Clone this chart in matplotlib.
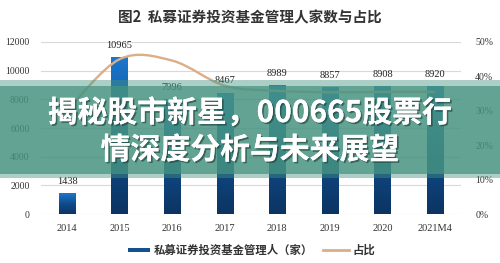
import matplotlib
matplotlib.use("Agg")
import matplotlib.pyplot as plt
import numpy as np
from matplotlib.path import Path
from matplotlib.patches import PathPatch, Rectangle
from matplotlib.colors import LinearSegmentedColormap
import matplotlib.patheffects as pe

plt.rcParams['font.family'] = ['Noto Sans CJK SC', 'DejaVu Sans']

years = ["2014", "2015", "2016", "2017", "2018", "2019", "2020", "2021M4"]
managers = [1438, 10965, 7996, 8467, 8989, 8857, 8908, 8920]
share = [30.0, 45.0, 44.6, 37.3, 35.8, 35.4, 35.5, 35.5]
left_ticks = [0, 2000, 4000, 6000, 8000, 10000, 12000]
right_ticks = [0, 10, 20, 30, 40, 50]

title = "图2  私募证券投资基金管理人家数与占比"
bar_label = "私募证券投资基金管理人（家）"
line_label = "占比"
headline = ["揭秘股市新星，000665股票行", "情深度分析与未来展望"]

W, H = 500, 263
fig = plt.figure(figsize=(W / 100, H / 100), dpi=100)
fig.patch.set_facecolor("white")

ax = fig.add_axes([40.7 / W, (H - 214) / H, 420.6 / W, 172 / H])
x = np.arange(len(years))
bw = 0.31

ax.set_xlim(-0.5, len(years) - 0.5)
ax.set_ylim(0, 12000)
ax.set_yticks(left_ticks)
ax.set_yticklabels([str(t) for t in left_ticks], fontfamily="Liberation Serif",
                   fontsize=7, color="#333333")
ax.set_xticks(x)
ax.set_xticklabels(years, fontfamily="Liberation Serif", fontsize=7.5, color="#333333")
ax.tick_params(length=0, pad=8)
ax.tick_params(axis="x", pad=7)
for s in ax.spines.values():
    s.set_visible(False)
ax.grid(axis="y", color="#d9d9d9", linewidth=0.8)
ax.set_axisbelow(True)

# vertical gradient fill for every bar: bright blue at the top, navy at the base
cmap = LinearSegmentedColormap.from_list("barfill", ["#0c3462", "#0f4d8c", "#1b78cf"])
grad = np.linspace(0, 1, 256).reshape(-1, 1)
bars = ax.bar(x, managers, width=bw, color="none", edgecolor="none", zorder=2)
for b, v in zip(bars, managers):
    x0 = b.get_x()
    im = ax.imshow(grad, cmap=cmap, origin="lower", aspect="auto",
                   extent=[x0, x0 + bw, 0, v], zorder=2)
    im.set_clip_path(b)
    ax.text(b.get_x() + bw / 2, v + 500, f"{v}", ha="center", va="bottom",
            fontfamily="Liberation Serif", fontsize=7.5, color="#222222", zorder=3)
ax.set_xlim(-0.5, len(years) - 0.5)
ax.set_ylim(0, 12000)

ax2 = ax.twinx()
ax2.set_ylim(0, 50)
ax2.set_yticks(right_ticks)
ax2.set_yticklabels([f"{t}%" for t in right_ticks], fontfamily="Liberation Serif",
                    fontsize=7, color="#333333")
ax2.tick_params(length=0, pad=10)
for s in ax2.spines.values():
    s.set_visible(False)

# smooth share curve: Catmull-Rom segments through the data points
pts = np.column_stack([x, share]).astype(float)
verts = [tuple(pts[0])]
codes = [Path.MOVETO]
for i in range(len(pts) - 1):
    p0 = pts[i - 1] if i > 0 else pts[i]
    p1, p2 = pts[i], pts[i + 1]
    p3 = pts[i + 2] if i + 2 < len(pts) else pts[i + 1]
    c1 = p1 + (p2 - p0) / 6
    c2 = p2 - (p3 - p1) / 6
    verts += [tuple(c1), tuple(c2), tuple(p2)]
    codes += [Path.CURVE4] * 3
ax2.add_patch(PathPatch(Path(verts, codes), facecolor="none", edgecolor="#dcae88",
                        linewidth=1.7, zorder=4))

fig.text(0.5, (H - 17) / H, title, ha="center", va="center", fontsize=10.5,
         fontweight="bold", color="#333333")

# legend row
fig.patches.append(Rectangle((128 / W, (H - 252) / H), 22 / W, 4 / H,
                             transform=fig.transFigure, facecolor="#14518f",
                             edgecolor="none"))
fig.text(154 / W, (H - 250) / H, bar_label, ha="left", va="center", fontsize=8.2,
         fontweight="bold", color="#333333")
fig.lines.append(plt.Line2D([323 / W, 349 / W], [(H - 250) / H] * 2,
                            transform=fig.transFigure, color="#dcae88", linewidth=2))
fig.text(352 / W, (H - 250) / H, line_label, ha="left", va="center", fontsize=8.2,
         fontweight="bold", color="#333333")

# translucent teal banner with headline
band = "#469381"
fig.patches.append(Rectangle((0, (H - 86) / H), 1, 6 / H, transform=fig.transFigure,
                             facecolor=band, alpha=0.45, edgecolor="none", zorder=10))
fig.patches.append(Rectangle((0, (H - 174) / H), 1, 88 / H, transform=fig.transFigure,
                             facecolor=band, alpha=0.85, edgecolor="none", zorder=10))
fig.patches.append(Rectangle((0, (H - 178) / H), 1, 4 / H, transform=fig.transFigure,
                             facecolor=band, alpha=0.45, edgecolor="none", zorder=10))

shadow = [pe.withSimplePatchShadow(offset=(1.2, -1.2), shadow_rgbFace="#1c3a33",
                                   alpha=0.6), pe.Normal()]
for txt, yc in zip(headline, [113, 150]):
    fig.text(0.5, (H - yc) / H, txt, ha="center", va="center", fontsize=21.5,
             fontweight="bold", color="white", zorder=11, path_effects=shadow)

fig.savefig("out.png", dpi=100, facecolor="white")
